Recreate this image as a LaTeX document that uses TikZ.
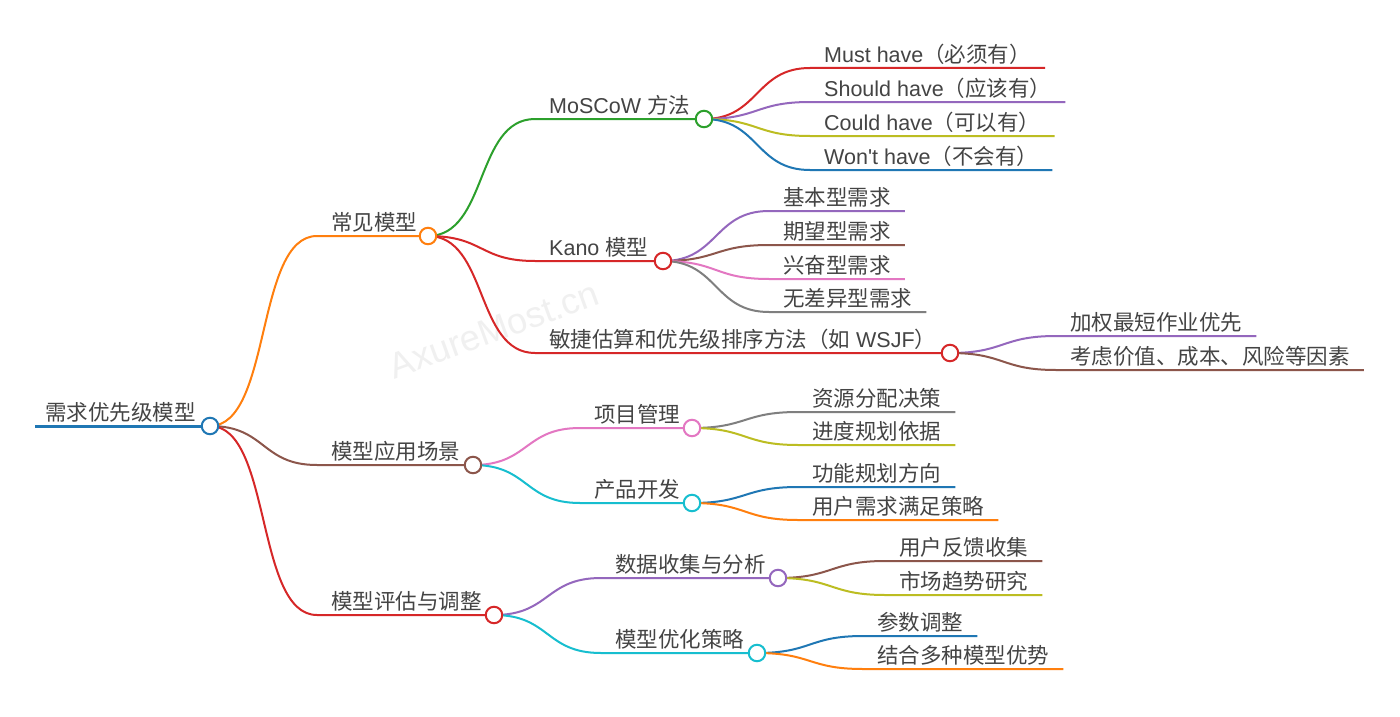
\documentclass[tikz,border=0pt]{standalone}
\usepackage{fontspec}
\setmainfont{Noto Sans CJK SC}
\newfontfamily\lat{Liberation Sans}
\usetikzlibrary{backgrounds}

\definecolor{tblue}{HTML}{1F77B4}
\definecolor{torange}{HTML}{FF7F0E}
\definecolor{tgreen}{HTML}{2CA02C}
\definecolor{tred}{HTML}{D62728}
\definecolor{tpurple}{HTML}{9467BD}
\definecolor{tbrown}{HTML}{8C564B}
\definecolor{tpink}{HTML}{E377C2}
\definecolor{tgray}{HTML}{7F7F7F}
\definecolor{tolive}{HTML}{BCBD22}
\definecolor{tcyan}{HTML}{17BECF}
\definecolor{txt}{HTML}{444444}

\begin{document}
\begin{tikzpicture}[
  x=1pt, y=-1pt,
  topic/.style={anchor=south west, inner xsep=14pt, inner ysep=5.5pt, text depth=0pt, text=txt, font=\fontsize{21.5}{26}\selectfont},
  dot/.style={circle, draw=#1, fill=white, line width=2pt, minimum size=16.5pt, inner sep=0pt},
  branch/.style={draw=#1, line width=2pt}
]
\useasboundingbox (0,0) rectangle (1400,717);

% root and first level
\node[topic, inner xsep=10pt] (root) at (35,426) {需求优先级模型};
\node[dot=tblue] (rootC) at (210,426) {};
\node[topic] (cm) at (317,236) {常见模型};
\node[dot=torange] (cmC) at (428,236) {};
\node[topic] (ys) at (317,465) {模型应用场景};
\node[dot=tbrown] (ysC) at (473,465) {};
\node[topic] (pg) at (317,615) {模型评估与调整};
\node[dot=tred] (pgC) at (494,615) {};

% second level
\node[topic] (mos) at (535,119) {{\lat MoSCoW }方法};
\node[dot=tgreen] (mosC) at (704,119) {};
\node[topic] (kano) at (535,261) {{\lat Kano }模型};
\node[dot=tred] (kanoC) at (663,261) {};
\node[topic] (agile) at (535,353) {敏捷估算和优先级排序方法（如{\lat\ WSJF}）};
\node[dot=tred] (agileC) at (950,353) {};
\node[topic] (pm) at (580,428) {项目管理};
\node[dot=tpink] (pmC) at (692,428) {};
\node[topic] (pd) at (580,503) {产品开发};
\node[dot=tcyan] (pdC) at (692,503) {};
\node[topic] (dc) at (601,578) {数据收集与分析};
\node[dot=tpurple] (dcC) at (778,578) {};
\node[topic] (opt) at (601,653) {模型优化策略};
\node[dot=tcyan] (optC) at (757,653) {};

% leaves
\node[topic] (must) at (810,68) {{\lat Must have}（必须有）};
\node[topic] (should) at (810,102) {{\lat Should have}（应该有）};
\node[topic] (could) at (810,136) {{\lat Could have}（可以有）};
\node[topic] (wont) at (810,170) {{\lat Won\textquotesingle t have}（不会有）};
\node[topic] (basic) at (769,211) {基本型需求};
\node[topic] (expect) at (769,245) {期望型需求};
\node[topic] (excite) at (769,279) {兴奋型需求};
\node[topic] (indiff) at (769,312) {无差异型需求};
\node[topic] (wsjf) at (1056,336) {加权最短作业优先};
\node[topic] (factor) at (1056,370) {考虑价值、成本、风险等因素};
\node[topic] (res) at (798,412) {资源分配决策};
\node[topic] (sched) at (798,445) {进度规划依据};
\node[topic] (func) at (798,487) {功能规划方向};
\node[topic] (user) at (798,520) {用户需求满足策略};
\node[topic] (fb) at (885,561) {用户反馈收集};
\node[topic] (trend) at (885,595) {市场趋势研究};
\node[topic] (param) at (863,636) {参数调整};
\node[topic] (combo) at (863,669) {结合多种模型优势};

\begin{scope}[on background layer]
\fill[white] (0,0) rectangle (1400,717);
\node[rotate=20, text=black!6, font=\lat\fontsize{36}{40}\selectfont] (wm) at (494,330) {AxureMost.cn};

\draw[branch=tblue, line width=3pt] (root.south west) -- (rootC.center);
\draw[branch=torange] (rootC.center) .. controls +(62,0) and +(-62,0) .. (cm.south west) -- (cmC.center);
\draw[branch=tbrown] (rootC.center) .. controls +(56,0) and +(-56,0) .. (ys.south west) -- (ysC.center);
\draw[branch=tred] (rootC.center) .. controls +(62,0) and +(-62,0) .. (pg.south west) -- (pgC.center);

\draw[branch=tgreen] (cmC.center) .. controls +(60,0) and +(-60,0) .. (mos.south west) -- (mosC.center);
\draw[branch=tred] (cmC.center) .. controls +(56,0) and +(-56,0) .. (kano.south west) -- (kanoC.center);
\draw[branch=tred] (cmC.center) .. controls +(60,0) and +(-60,0) .. (agile.south west) -- (agileC.center);
\draw[branch=tpink] (ysC.center) .. controls +(56,0) and +(-56,0) .. (pm.south west) -- (pmC.center);
\draw[branch=tcyan] (ysC.center) .. controls +(56,0) and +(-56,0) .. (pd.south west) -- (pdC.center);
\draw[branch=tpurple] (pgC.center) .. controls +(56,0) and +(-56,0) .. (dc.south west) -- (dcC.center);
\draw[branch=tcyan] (pgC.center) .. controls +(56,0) and +(-56,0) .. (opt.south west) -- (optC.center);

\draw[branch=tred] (mosC.center) .. controls +(55,0) and +(-55,0) .. (must.south west) -- (must.south east);
\draw[branch=tpurple] (mosC.center) .. controls +(55,0) and +(-55,0) .. (should.south west) -- (should.south east);
\draw[branch=tolive] (mosC.center) .. controls +(55,0) and +(-55,0) .. (could.south west) -- (could.south east);
\draw[branch=tblue] (mosC.center) .. controls +(55,0) and +(-55,0) .. (wont.south west) -- (wont.south east);
\draw[branch=tpurple] (kanoC.center) .. controls +(55,0) and +(-55,0) .. (basic.south west) -- (basic.south east);
\draw[branch=tbrown] (kanoC.center) .. controls +(55,0) and +(-55,0) .. (expect.south west) -- (expect.south east);
\draw[branch=tpink] (kanoC.center) .. controls +(55,0) and +(-55,0) .. (excite.south west) -- (excite.south east);
\draw[branch=tgray] (kanoC.center) .. controls +(55,0) and +(-55,0) .. (indiff.south west) -- (indiff.south east);
\draw[branch=tpurple] (agileC.center) .. controls +(55,0) and +(-55,0) .. (wsjf.south west) -- (wsjf.south east);
\draw[branch=tbrown] (agileC.center) .. controls +(55,0) and +(-55,0) .. (factor.south west) -- (factor.south east);
\draw[branch=tgray] (pmC.center) .. controls +(55,0) and +(-55,0) .. (res.south west) -- (res.south east);
\draw[branch=tolive] (pmC.center) .. controls +(55,0) and +(-55,0) .. (sched.south west) -- (sched.south east);
\draw[branch=tblue] (pdC.center) .. controls +(55,0) and +(-55,0) .. (func.south west) -- (func.south east);
\draw[branch=torange] (pdC.center) .. controls +(55,0) and +(-55,0) .. (user.south west) -- (user.south east);
\draw[branch=tbrown] (dcC.center) .. controls +(55,0) and +(-55,0) .. (fb.south west) -- (fb.south east);
\draw[branch=tolive] (dcC.center) .. controls +(55,0) and +(-55,0) .. (trend.south west) -- (trend.south east);
\draw[branch=tblue] (optC.center) .. controls +(55,0) and +(-55,0) .. (param.south west) -- (param.south east);
\draw[branch=torange] (optC.center) .. controls +(55,0) and +(-55,0) .. (combo.south west) -- (combo.south east);
\end{scope}
\end{tikzpicture}
\end{document}
